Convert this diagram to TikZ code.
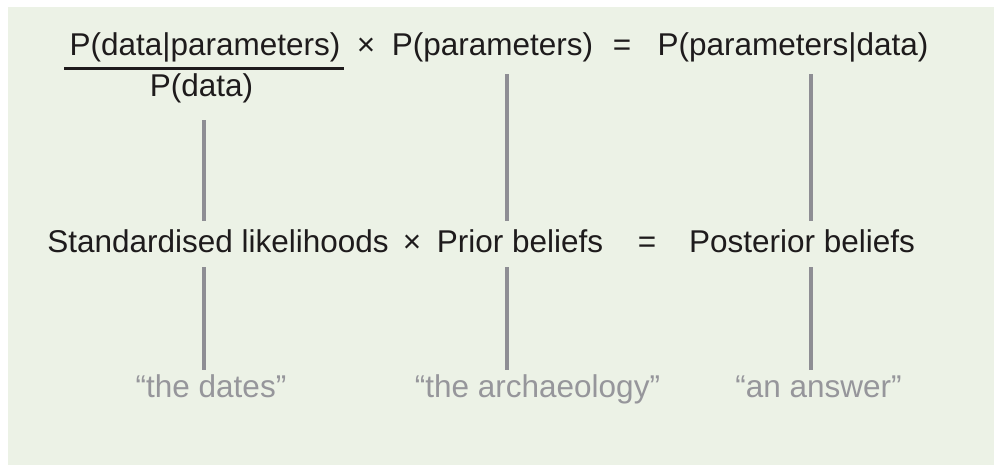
\documentclass[tikz,border=0pt]{standalone}
\usepackage{fontspec}
\setmainfont{Liberation Sans}
\usetikzlibrary{calc}
\definecolor{bgpale}{RGB}{236,242,230}
\definecolor{inkdark}{RGB}{30,27,28}
\definecolor{inkgrey}{RGB}{150,150,155}
\definecolor{rulegrey}{RGB}{142,142,148}
\tikzset{
  term/.style={anchor=base,inner sep=0pt,text height=23pt,text depth=7pt,font=\fontsize{31.5}{38}\selectfont,text=inkdark},
  gloss/.style={term,text=inkgrey},
  link/.style={draw=rulegrey,line width=3.2pt},
}

\begin{document}
\begin{tikzpicture}[x=1pt,y=-1pt]
\useasboundingbox (0,0) rectangle (994,465);
\fill[bgpale] (8,7) rectangle (994,465);
% formula
\node[term] (num) at (205,56) {P(data|parameters)};
\node[term] (den) at (201.5,97) {P(data)};
\node[term] (tm1) at (366,56) {×};
\node[term] (prior) at (492.5,56) {P(parameters)};
\node[term] (eq1) at (622,56) {=};
\node[term] (post) at (793,56) {P(parameters|data)};
\draw[line width=3.2pt,inkdark] ($(num.south west)+(-5,5)$) -- ($(num.south east)+(3,5)$);
% words
\node[term] (sl) at (218,253) {Standardised likelihoods};
\node[term] (tm2) at (412,253) {×};
\node[term] (pb) at (520,253) {Prior beliefs};
\node[term] (eq2) at (647,253) {=};
\node[term] (pob) at (802,253) {Posterior beliefs};
% glosses
\node[gloss] (dates) at (211,397) {“the dates”};
\node[gloss] (arch) at (537.5,397) {“the archaeology”};
\node[gloss] (ans) at (818.5,397) {“an answer”};
% rules
\coordinate (c1) at (204,0);
\coordinate (c2) at (507,0);
\coordinate (c3) at (811,0);
\draw[link] ($(c1 |- den.south)+(0,16)$) -- ($(c1 |- sl.north)+(0,-9)$);
\draw[link] ($(c2 |- prior.south)+(0,11)$) -- ($(c2 |- pb.north)+(0,-9)$);
\draw[link] ($(c3 |- post.south)+(0,11)$) -- ($(c3 |- pob.north)+(0,-9)$);
\foreach \c/\g in {c1/dates,c2/arch,c3/ans}{\draw[link] ($(\c |- sl.south)+(0,7)$) -- ($(\c |- \g.north)+(0,-4)$);}
\end{tikzpicture}
\end{document}
